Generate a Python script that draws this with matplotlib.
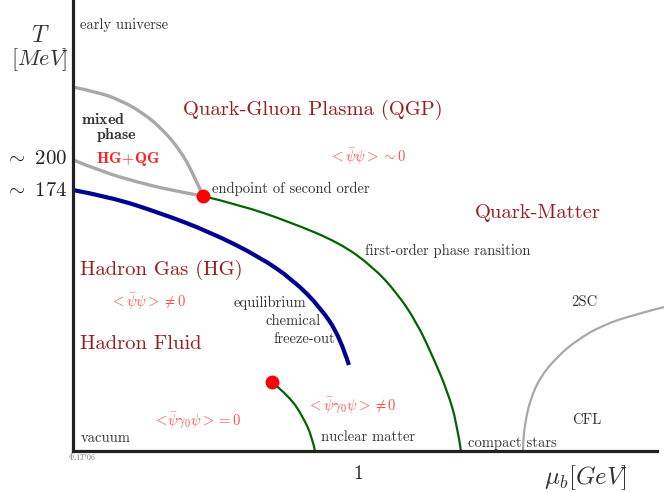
import numpy as np
import matplotlib
matplotlib.use("Agg")
import matplotlib.pyplot as plt
from matplotlib.path import Path
from matplotlib.patches import PathPatch

plt.rcParams['mathtext.fontset'] = 'cm'
plt.rcParams['font.family'] = ['cmr10', 'DejaVu Serif']
plt.rcParams['axes.unicode_minus'] = False

# schematic phase diagram, mu_b in GeV, T in MeV
mix_upper_mu = [0.0, 0.084, 0.165, 0.246, 0.316, 0.375, 0.421, 0.456]
mix_upper_T = [241.7, 238.4, 233.1, 224.5, 213.2, 199.9, 184.6, 169.3]
mix_lower_mu = [0.0, 0.105, 0.225, 0.340, 0.456]
mix_lower_T = [193.3, 185.3, 178.6, 173.3, 169.3]

freeze_mu = [0.0, 0.130, 0.305, 0.481, 0.656, 0.772, 0.867, 0.937, 0.968]
freeze_T = [173.3, 168.7, 158.1, 145.4, 128.8, 113.6, 95.6, 75.7, 57.1]

first_order_mu = [0.456, 0.586, 0.761, 0.937, 1.053, 1.137, 1.207, 1.263, 1.312, 1.347, 1.361]
first_order_T = [169.3, 163.4, 152.1, 138.1, 122.2, 104.9, 85.0, 62.4, 40.5, 18.6, 0.0]

nuclear_mu = [0.698, 0.761, 0.807, 0.839, 0.849]
nuclear_T = [45.8, 35.9, 22.6, 9.3, 0.0]

csc_mu = [1.579, 1.579, 1.586, 1.604, 1.639, 1.698, 1.768, 1.860, 1.965, 2.074]
csc_T = [0.0, 5.3, 18.6, 33.9, 49.1, 62.4, 73.7, 83.7, 90.3, 95.6]

endpoints_mu = [0.456, 0.698]
endpoints_T = [169.3, 45.8]

T_ticks = [174, 195]
T_ticklabels = [r'$\sim\ 174$', r'$\sim\ 200$']
mu_ticks = [1]
mu_ticklabels = ['1']

fig = plt.figure(figsize=(6.64, 4.92), dpi=100)
ax = fig.add_axes([73/664, 41/492, 584/664, 451/492])
ax.set_xlim(0, 2.049)
ax.set_ylim(0, 299.5)

for s in ['top', 'right']:
    ax.spines[s].set_visible(False)
for s in ['left', 'bottom']:
    ax.spines[s].set_linewidth(2.3)
    ax.spines[s].set_color('#222222')
    ax.spines[s].set_zorder(5)

ax.set_yticks(T_ticks)
ax.set_yticklabels(T_ticklabels, fontsize=15, color='#222222')
ax.set_xticks(mu_ticks)
ax.set_xticklabels(mu_ticklabels, fontsize=14, color='#222222')
ax.tick_params(axis='y', length=0, pad=4)
ax.tick_params(axis='x', length=0, pad=10)


# smooth curve through the read points (quadratic beziers via midpoints)
def curve(xs, ys, **kw):
    pts = list(zip(xs, ys))
    verts = [pts[0]]
    codes = [Path.MOVETO]
    for i in range(1, len(pts) - 1):
        mid = ((pts[i][0] + pts[i+1][0]) / 2, (pts[i][1] + pts[i+1][1]) / 2)
        if i == len(pts) - 2:
            mid = pts[-1]
        verts += [pts[i], mid]
        codes += [Path.CURVE3, Path.CURVE3]
    if len(pts) == 2:
        verts.append(pts[1])
        codes.append(Path.LINETO)
    ax.add_patch(PathPatch(Path(verts, codes), fill=False, capstyle='butt', **kw))


gray = '#a8a8a8'
curve(mix_upper_mu, mix_upper_T, edgecolor=gray, lw=2.4)
curve(mix_lower_mu, mix_lower_T, edgecolor=gray, lw=2.4)
curve(freeze_mu, freeze_T, edgecolor='#000090', lw=3.0)
curve(first_order_mu, first_order_T, edgecolor='#006400', lw=1.6)
curve(nuclear_mu, nuclear_T, edgecolor='#006400', lw=1.6)
curve(csc_mu, csc_T, edgecolor=gray, lw=1.6, clip_on=False)
ax.plot(endpoints_mu, endpoints_T, 'o', color='#ff0000', ms=10, mec='none', zorder=6)

dark = '#333333'
dred = '#9b1c1c'
lred = '#ff4d4d'

def px(x, y):
    return (x - 73) / 285, (451 - y) * 0.6641

def label(x, y, s, **kw):
    kw.setdefault('fontsize', 10.5)
    kw.setdefault('color', dark)
    kw.setdefault('ha', 'left')
    kw.setdefault('va', 'center')
    ax.text(*px(x, y), s, clip_on=False, **kw)

label(80, 25, 'early universe')
label(81, 120, r'$\mathbf{mixed}$', fontsize=11.5)
label(96, 135, r'$\mathbf{phase}$', fontsize=11.5)
label(96, 159, r'$\mathbf{HG\!+\!QG}$', fontsize=11.5, color='#ff2020')
label(183, 110, 'Quark-Gluon Plasma (QGP)', fontsize=14.8, color=dred)
label(329, 157, r'$<\bar{\psi}\psi>\sim 0$', fontsize=10.5, color=lred)
label(212, 189, 'endpoint of second order')
label(475, 213, 'Quark-Matter', fontsize=14.8, color=dred)
label(365, 251, 'first-order phase ransition')
label(80, 270, 'Hadron Gas (HG)', fontsize=14.8, color=dred)
label(110, 302, r'$<\bar{\psi}\psi>\neq 0$', fontsize=10.5, color=lred)
label(234, 303, 'equilibrium')
label(265, 321, 'chemical')
label(273, 339, 'freeze-out')
label(80, 344, 'Hadron Fluid', fontsize=14.8, color=dred)
label(571, 302, '2SC')
label(307, 405, r'$<\bar{\psi}\gamma_0\psi>\neq 0$', fontsize=10.5, color=lred)
label(153, 420, r'$<\!\bar{\psi}\gamma_0\psi>= 0$', fontsize=10.5, color=lred)
label(572, 420, 'CFL')
label(81, 438, 'vacuum')
label(321, 437, 'nuclear matter')
label(468, 443, 'compact stars')
label(68, 456, r'©$AT^{\prime}06$', fontsize=5.5, color='#777777')

label(40, 36, r'$T$', fontsize=17, ha='center')
label(40, 60, r'$[MeV]$', fontsize=16, ha='center')
label(586, 478, r'$\mu_b[GeV]$', fontsize=18, ha='center')

fig.savefig('out.png', dpi=100)
